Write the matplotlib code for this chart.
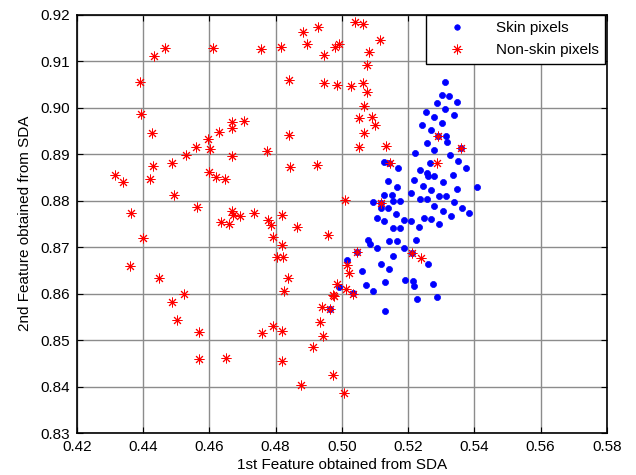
import matplotlib
matplotlib.use("Agg")
import matplotlib.pyplot as plt
import numpy as np

# Skin pixels (blue)
skin_x = [0.5312, 0.5303, 0.5324, 0.5348, 0.5288, 0.5254, 0.5312, 0.5339, 0.5278, 0.5303,
          0.5242, 0.5269, 0.5315, 0.5318, 0.5257, 0.5278, 0.5221, 0.5327, 0.5351, 0.5375,
          0.5128, 0.5170, 0.5266, 0.5236, 0.5257, 0.5260, 0.5278, 0.5336, 0.5218, 0.5140,
          0.5167, 0.5245, 0.5306, 0.5269, 0.5348, 0.5408, 0.5209, 0.5128, 0.5152, 0.5155,
          0.5176, 0.5236, 0.5257, 0.5294, 0.5315, 0.5094, 0.5119, 0.5140, 0.5278, 0.5339,
          0.5384, 0.5363, 0.5306, 0.5164, 0.5106, 0.5128, 0.5188, 0.5209, 0.5248, 0.5269,
          0.5330, 0.5294, 0.5155, 0.5176, 0.5233, 0.5079, 0.5085, 0.5143, 0.5167, 0.5224,
          0.5106, 0.5188, 0.5155, 0.5119, 0.5143, 0.5260, 0.5061, 0.5016, 0.5191, 0.5215,
          0.5218, 0.5275, 0.5131, 0.5073, 0.5094, 0.4992, 0.5034, 0.5227, 0.5288, 0.5131,
          0.4965, 0.5143, 0.5119, 0.5046, 0.5212, 0.5291, 0.5360]
skin_y = [0.9056, 0.9026, 0.9024, 0.9013, 0.9009, 0.8990, 0.8996, 0.8985, 0.8979, 0.8966,
          0.8962, 0.8951, 0.8938, 0.8927, 0.8923, 0.8908, 0.8903, 0.8897, 0.8884, 0.8871,
          0.8882, 0.8869, 0.8880, 0.8865, 0.8860, 0.8852, 0.8852, 0.8856, 0.8845, 0.8841,
          0.8830, 0.8832, 0.8839, 0.8822, 0.8824, 0.8830, 0.8817, 0.8811, 0.8811, 0.8800,
          0.8798, 0.8804, 0.8804, 0.8809, 0.8809, 0.8796, 0.8785, 0.8783, 0.8789, 0.8796,
          0.8774, 0.8785, 0.8778, 0.8770, 0.8763, 0.8755, 0.8759, 0.8757, 0.8763, 0.8761,
          0.8766, 0.8750, 0.8742, 0.8742, 0.8744, 0.8716, 0.8707, 0.8712, 0.8712, 0.8716,
          0.8697, 0.8699, 0.8681, 0.8664, 0.8653, 0.8664, 0.8649, 0.8673, 0.8630, 0.8628,
          0.8617, 0.8621, 0.8625, 0.8619, 0.8606, 0.8615, 0.8602, 0.8589, 0.8593, 0.8563,
          0.8567, 0.8880, 0.8794, 0.8690, 0.8688, 0.8938, 0.8914]

# Non-skin pixels (red)
nonskin_x = [0.4466, 0.4433, 0.4612, 0.4755, 0.4391, 0.4394, 0.4427, 0.4669, 0.4669, 0.4706,
             0.4630, 0.4597, 0.4603, 0.4561, 0.4530, 0.4669,
             0.4884, 0.4927, 0.4896, 0.4815, 0.4945, 0.4979, 0.4991, 0.5039, 0.5063, 0.5115,
             0.5082, 0.5076, 0.4842, 0.4945, 0.4985, 0.5027, 0.5063, 0.5076, 0.5066, 0.5051,
             0.5091, 0.5100, 0.5066, 0.4842, 0.5051, 0.5133, 0.4773,
             0.4430, 0.4487, 0.4316, 0.4340, 0.4421, 0.4600, 0.4621, 0.4648, 0.4494, 0.4364,
             0.4564, 0.4669, 0.4672, 0.4693, 0.4735, 0.4636, 0.4660, 0.4400, 0.4361, 0.4448,
             0.4524, 0.4487,
             0.4845, 0.4924, 0.5146, 0.5288, 0.5009, 0.5119, 0.4818, 0.4776, 0.4785, 0.4866,
             0.4957, 0.4791, 0.4818, 0.4803, 0.4824, 0.5045, 0.5212, 0.5239, 0.5015, 0.5021,
             0.4839, 0.4827, 0.4985, 0.5012, 0.5033, 0.4973,
             0.4976, 0.4940, 0.4964, 0.4933, 0.4942, 0.4912, 0.4791, 0.4821, 0.4760, 0.4818,
             0.4973, 0.4876, 0.5006,
             0.4503, 0.4569, 0.4569, 0.4651, 0.5291, 0.5360]
nonskin_y = [0.9128, 0.9111, 0.9128, 0.9126, 0.9055, 0.8987, 0.8945, 0.8968, 0.8957, 0.8972,
             0.8948, 0.8932, 0.8911, 0.8915, 0.8898, 0.8896,
             0.9162, 0.9173, 0.9137, 0.9130, 0.9113, 0.9130, 0.9137, 0.9184, 0.9180, 0.9145,
             0.9119, 0.9091, 0.9059, 0.9053, 0.9048, 0.9046, 0.9053, 0.9034, 0.9004, 0.8978,
             0.8980, 0.8963, 0.8945, 0.8941, 0.8915, 0.8917, 0.8906,
             0.8874, 0.8881, 0.8855, 0.8840, 0.8846, 0.8861, 0.8850, 0.8846, 0.8813, 0.8774,
             0.8787, 0.8778, 0.8768, 0.8766, 0.8774, 0.8753, 0.8750, 0.8719, 0.8660, 0.8634,
             0.8600, 0.8581,
             0.8872, 0.8876, 0.8880, 0.8880, 0.8802, 0.8794, 0.8768, 0.8759, 0.8748, 0.8744,
             0.8726, 0.8722, 0.8705, 0.8679, 0.8679, 0.8690, 0.8688, 0.8677, 0.8661, 0.8644,
             0.8634, 0.8606, 0.8621, 0.8610, 0.8598, 0.8596,
             0.8594, 0.8570, 0.8566, 0.8538, 0.8509, 0.8485, 0.8530, 0.8519, 0.8515, 0.8455,
             0.8425, 0.8403, 0.8385,
             0.8543, 0.8517, 0.8459, 0.8461, 0.8938, 0.8914]

x_ticks = [0.42, 0.44, 0.46, 0.48, 0.50, 0.52, 0.54, 0.56, 0.58]
y_ticks = [0.83, 0.84, 0.85, 0.86, 0.87, 0.88, 0.89, 0.90, 0.91, 0.92]

plt.rcParams['font.family'] = ['Liberation Sans', 'DejaVu Sans']

fig = plt.figure(figsize=(6.36, 4.75), dpi=100)
ax = fig.add_axes([0.1206, 0.0884, 0.8337, 0.8809])

ax.plot(skin_x, skin_y, linestyle='none', marker='o', markersize=4.4,
        markerfacecolor='#0000ff', markeredgecolor='#0000ff', markeredgewidth=0.5,
        label='Skin pixels', zorder=3)
ax.plot(nonskin_x, nonskin_y, linestyle='none', marker=(8, 2, 0), markersize=7.0,
        color='#ff0000', markeredgewidth=0.7, label='Non-skin pixels', zorder=4)

ax.set_xlim(0.42, 0.58)
ax.set_ylim(0.83, 0.92)
ax.set_xticks(x_ticks)
ax.set_yticks(y_ticks)
ax.set_xticklabels(['%.2f' % v for v in x_ticks], fontsize=11)
ax.set_yticklabels(['%.2f' % v for v in y_ticks], fontsize=11)
ax.tick_params(direction='in', length=4, width=0.8, top=True, right=True, pad=5)
ax.grid(True, color='#8c8c8c', linewidth=1.0, linestyle='-')
ax.set_axisbelow(True)
for s in ax.spines.values():
    s.set_linewidth(1.2)
    s.set_color('black')

ax.set_xlabel('1st Feature obtained from SDA', fontsize=11, labelpad=3)
ax.set_ylabel('2nd Feature obtained from SDA', fontsize=11, labelpad=6)

leg = ax.legend(loc='upper right', bbox_to_anchor=(0.997, 1.0), fontsize=11,
                fancybox=False, framealpha=1, edgecolor='black',
                borderpad=0.45, handletextpad=0.9, borderaxespad=0.0, handlelength=3.2)
leg.get_frame().set_linewidth(1.0)
leg.legend_handles[0].set_markersize(4)

fig.savefig('out.png', dpi=100)
